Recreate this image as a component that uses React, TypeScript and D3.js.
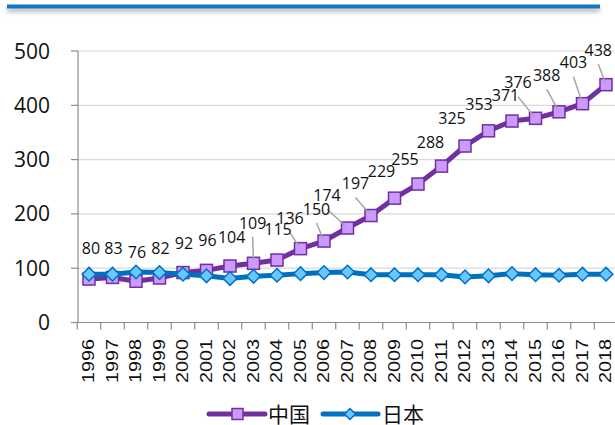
import React from 'react';
import * as d3 from 'd3';

const years = ['1996','1997','1998','1999','2000','2001','2002','2003','2004','2005','2006','2007','2008','2009','2010','2011','2012','2013','2014','2015','2016','2017','2018'];
const chinaValues = [80,83,76,82,92,96,104,109,115,136,150,174,197,229,255,288,325,353,371,376,388,403,438];
const japanValues = [89,89,93,92,89,86,81,85,87,90,92,93,88,88,88,88,84,86,90,88,87,89,89];
const yTicks = [0,100,200,300,400,500];
const seriesNames = ['中国','日本'];

// label placement relative to the point: [dx, dy(center), hasLeader]
const labelOffsets: [number, number, boolean][] = [
  [2,-31,false],[1,-29.5,false],[1,-29.3,false],[1,-30,false],[1,-29.5,false],[1,-30,false],[1.7,-28.6,false],
  [-0.8,-40.5,true],[1,-30.7,false],[-10.5,-30,true],[-7.5,-32,true],[-20.5,-33,true],[-15.5,-32,true],
  [-13,-27,false],[-13,-25,false],[-11,-24,false],[-13,-28,false],[-9.5,-27,false],[-6.5,-26,false],
  [-17.5,-35.7,true],[-12.3,-36.7,true],[-9,-41,true],[-7.7,-34.6,true],
];

const W = 615, H = 425;
const CHINA = '#7030a0', CHINA_FILL = '#cc99ff';
const JAPAN = '#0070c0', JAPAN_FILL = '#66c8ff';
const AXIS = '#8c8c8c', GRID = '#d9d9d9';
const LATIN = '"Open Sans", "Noto Sans", sans-serif';
const CJK = '"Noto Sans CJK SC", sans-serif';

export default function App() {
  const x = d3.scaleBand<string>().domain(years).range([77.25, 77.25 + 23.5 * years.length]).padding(0);
  const cx = (i: number) => (x(years[i]) as number) + x.bandwidth() / 2;
  const y = d3.scaleLinear().domain([0, 500]).range([322.5, 51]);
  const line = d3.line<number>().x((_, i) => cx(i)).y(d => y(d));
  const x0 = 78, xEnd = W;
  const tickXs = years.map(yr => x(yr) as number).concat([(x(years[years.length - 1]) as number) + x.bandwidth()]);
  const sq = 12, dm = 6.8;
  const diamond = (px: number, py: number, r: number) => `M${px},${py - r}L${px + r},${py}L${px},${py + r}L${px - r},${py}Z`;

  return (
    <svg width={W} height={H} style={{ position: 'absolute', left: 0, top: 0, background: '#fff' }}>
      <defs>
        <filter id="sh" x="-5%" y="-200%" width="110%" height="600%">
          <feGaussianBlur in="SourceAlpha" stdDeviation="2.5" />
          <feOffset dy="3" result="b" />
          <feComponentTransfer><feFuncA type="linear" slope="0.35" /></feComponentTransfer>
          <feMerge><feMergeNode /><feMergeNode in="SourceGraphic" /></feMerge>
        </filter>
      </defs>
      <rect x={7} y={4.5} width={593} height={4} fill="#1476c0" filter="url(#sh)" />

      {/* grid */}
      {yTicks.filter(t => t > 0).map(t => (
        <line key={'g' + t} x1={x0} x2={xEnd} y1={y(t)} y2={y(t)} stroke={GRID} strokeWidth={1.2} />
      ))}
      {/* y axis */}
      <line x1={x0} x2={x0} y1={y(500)} y2={y(0)} stroke={AXIS} strokeWidth={1.2} />
      {yTicks.map(t => (
        <g key={'yt' + t}>
          <line x1={71} x2={x0} y1={y(t)} y2={y(t)} stroke={AXIS} strokeWidth={1.2} />
          <text x={50} y={y(t) + 7.5} textAnchor="end" fontFamily={LATIN} fontSize={21} fill="#111">{t}</text>
        </g>
      ))}
      {/* x axis */}
      <line x1={x0} x2={xEnd} y1={y(0)} y2={y(0)} stroke={AXIS} strokeWidth={1.2} />
      {tickXs.map((tx, i) => (
        <line key={'xt' + i} x1={tx} x2={tx} y1={y(0)} y2={y(0) + 7} stroke={AXIS} strokeWidth={1.2} />
      ))}
      {years.map((yr, i) => (
        <text key={'xl' + yr} transform={`translate(${cx(i) + 5},339) rotate(-90)`} textAnchor="end"
          fontFamily='"Liberation Sans", Arial, sans-serif' fontSize={15.8} textLength={44} lengthAdjust="spacingAndGlyphs" fill="#111">{yr}</text>
      ))}

      {/* China */}
      <path d={line(chinaValues) as string} fill="none" stroke={CHINA} strokeWidth={5} strokeLinejoin="round" />
      {chinaValues.map((v, i) => (
        <rect key={'cm' + i} x={cx(i) - sq / 2} y={y(v) - sq / 2} width={sq} height={sq} fill={CHINA_FILL} stroke={CHINA} strokeWidth={1.5} />
      ))}
      {/* Japan */}
      <path d={line(japanValues) as string} fill="none" stroke={JAPAN} strokeWidth={5} strokeLinejoin="round" />
      {japanValues.map((v, i) => (
        <path key={'jm' + i} d={diamond(cx(i), y(v), dm)} fill={JAPAN_FILL} stroke={JAPAN} strokeWidth={1.5} />
      ))}

      {/* leaders + labels */}
      {chinaValues.map((v, i) => {
        const [dx, dy, leader] = labelOffsets[i];
        const px = cx(i), py = y(v);
        const lx = px + dx, ly = py + dy;
        if (!leader) return null;
        const sx = lx, sy = ly + 6 + 8;
        const ang = Math.atan2(py - sy, px - sx);
        const ex = px - 3 * Math.cos(ang), ey = py - 3 * Math.sin(ang);
        return <line key={'ld' + i} x1={sx} y1={sy} x2={ex} y2={ey} stroke="#a6a6a6" strokeWidth={1.5} />;
      })}
      {chinaValues.map((v, i) => {
        const [dx, dy] = labelOffsets[i];
        return (
          <text key={'lb' + i} x={cx(i) + dx} y={y(v) + dy + 5.8} textAnchor="middle" fontFamily={LATIN} fontSize={16} fill="#111">{v}</text>
        );
      })}

      {/* legend */}
      <line x1={209} x2={265} y1={414} y2={414} stroke={CHINA} strokeWidth={5} strokeLinecap="round" />
      <rect x={237.5 - 5.5} y={414 - 5.5} width={11} height={11} fill={CHINA_FILL} stroke={CHINA} strokeWidth={1.5} />
      <text x={268} y={421.5} fontFamily={CJK} fontSize={21} fill="#111">{seriesNames[0]}</text>
      <line x1={323} x2={378} y1={414} y2={414} stroke={JAPAN} strokeWidth={5} strokeLinecap="round" />
      <path d={diamond(350, 414, 5.5)} fill={JAPAN_FILL} stroke={JAPAN} strokeWidth={1.5} />
      <text x={382} y={421.5} fontFamily={CJK} fontSize={21} fill="#111">{seriesNames[1]}</text>
    </svg>
  );
}
